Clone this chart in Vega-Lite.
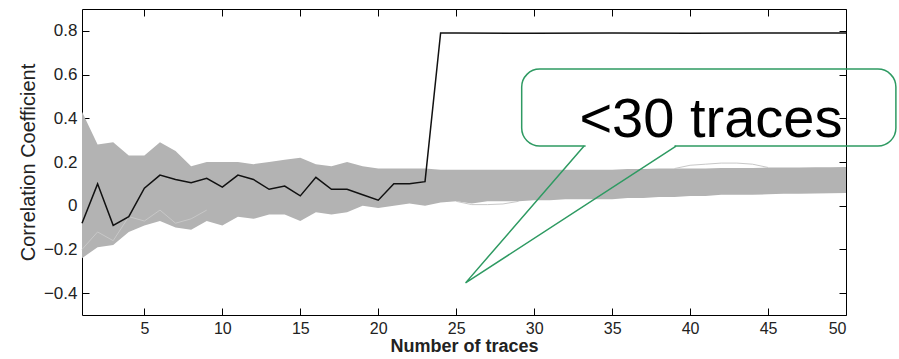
{
  "$schema": "https://vega.github.io/schema/vega-lite/v6.json",
  "width": 764,
  "height": 306,
  "autosize": {"type": "none"},
  "padding": {"left": 82, "top": 9, "right": 53, "bottom": 44},
  "background": "white",
  "config": {
    "view": {"stroke": "#000000", "strokeWidth": 1},
    "axis": {
      "grid": false,
      "domain": false,
      "tickColor": "#000000",
      "tickWidth": 1,
      "tickSize": 7,
      "labelFont": "Liberation Sans",
      "labelFontSize": 17,
      "labelColor": "#222222",
      "titleFont": "Liberation Sans",
      "titleColor": "#222222"
    }
  },
  "datasets": {
    "band": [
      {"n": 1, "lo": -0.24, "hi": 0.43},
      {"n": 2, "lo": -0.19, "hi": 0.28},
      {"n": 3, "lo": -0.18, "hi": 0.29},
      {"n": 4, "lo": -0.12, "hi": 0.23},
      {"n": 5, "lo": -0.09, "hi": 0.23},
      {"n": 6, "lo": -0.07, "hi": 0.29},
      {"n": 7, "lo": -0.10, "hi": 0.25},
      {"n": 8, "lo": -0.11, "hi": 0.18},
      {"n": 9, "lo": -0.07, "hi": 0.20},
      {"n": 10, "lo": -0.09, "hi": 0.20},
      {"n": 11, "lo": -0.05, "hi": 0.20},
      {"n": 12, "lo": -0.06, "hi": 0.19},
      {"n": 13, "lo": -0.04, "hi": 0.20},
      {"n": 14, "lo": -0.04, "hi": 0.21},
      {"n": 15, "lo": -0.07, "hi": 0.22},
      {"n": 16, "lo": -0.03, "hi": 0.19},
      {"n": 17, "lo": -0.04, "hi": 0.18},
      {"n": 18, "lo": -0.03, "hi": 0.20},
      {"n": 19, "lo": 0.00, "hi": 0.18},
      {"n": 20, "lo": -0.01, "hi": 0.17},
      {"n": 21, "lo": 0.00, "hi": 0.17},
      {"n": 22, "lo": 0.01, "hi": 0.17},
      {"n": 23, "lo": 0.00, "hi": 0.17},
      {"n": 24, "lo": 0.015, "hi": 0.165},
      {"n": 25, "lo": 0.02, "hi": 0.165},
      {"n": 26, "lo": 0.01, "hi": 0.165},
      {"n": 27, "lo": 0.02, "hi": 0.165},
      {"n": 28, "lo": 0.02, "hi": 0.165},
      {"n": 29, "lo": 0.02, "hi": 0.165},
      {"n": 30, "lo": 0.025, "hi": 0.165},
      {"n": 31, "lo": 0.025, "hi": 0.165},
      {"n": 32, "lo": 0.03, "hi": 0.165},
      {"n": 33, "lo": 0.03, "hi": 0.165},
      {"n": 34, "lo": 0.03, "hi": 0.165},
      {"n": 35, "lo": 0.03, "hi": 0.165},
      {"n": 36, "lo": 0.035, "hi": 0.168},
      {"n": 37, "lo": 0.035, "hi": 0.168},
      {"n": 38, "lo": 0.04, "hi": 0.17},
      {"n": 39, "lo": 0.04, "hi": 0.17},
      {"n": 40, "lo": 0.045, "hi": 0.17},
      {"n": 41, "lo": 0.045, "hi": 0.17},
      {"n": 42, "lo": 0.05, "hi": 0.172},
      {"n": 43, "lo": 0.05, "hi": 0.172},
      {"n": 44, "lo": 0.05, "hi": 0.172},
      {"n": 45, "lo": 0.052, "hi": 0.175},
      {"n": 46, "lo": 0.055, "hi": 0.175},
      {"n": 47, "lo": 0.055, "hi": 0.175},
      {"n": 48, "lo": 0.056, "hi": 0.176},
      {"n": 49, "lo": 0.057, "hi": 0.176},
      {"n": 50, "lo": 0.058, "hi": 0.177}
    ],
    "outliers": [
      {"trace": "a", "n": 25, "r": 0.02},
      {"trace": "a", "n": 26, "r": 0.005},
      {"trace": "a", "n": 27, "r": 0.005},
      {"trace": "a", "n": 28, "r": 0.008},
      {"trace": "a", "n": 29, "r": 0.02},
      {"trace": "b", "n": 39, "r": 0.17},
      {"trace": "b", "n": 40, "r": 0.185},
      {"trace": "b", "n": 41, "r": 0.19},
      {"trace": "b", "n": 42, "r": 0.195},
      {"trace": "b", "n": 43, "r": 0.195},
      {"trace": "b", "n": 44, "r": 0.19},
      {"trace": "b", "n": 45, "r": 0.175},
      {"trace": "c", "n": 1, "r": -0.2},
      {"trace": "c", "n": 2, "r": -0.12},
      {"trace": "c", "n": 3, "r": -0.16},
      {"trace": "c", "n": 4, "r": -0.05},
      {"trace": "c", "n": 5, "r": -0.07},
      {"trace": "c", "n": 6, "r": -0.02},
      {"trace": "c", "n": 7, "r": -0.08},
      {"trace": "c", "n": 8, "r": -0.06},
      {"trace": "c", "n": 9, "r": -0.02}
    ],
    "key": [
      {"n": 1, "r": -0.08},
      {"n": 2, "r": 0.10},
      {"n": 3, "r": -0.09},
      {"n": 4, "r": -0.05},
      {"n": 5, "r": 0.08},
      {"n": 6, "r": 0.14},
      {"n": 7, "r": 0.12},
      {"n": 8, "r": 0.105},
      {"n": 9, "r": 0.125},
      {"n": 10, "r": 0.085},
      {"n": 11, "r": 0.14},
      {"n": 12, "r": 0.12},
      {"n": 13, "r": 0.075},
      {"n": 14, "r": 0.09},
      {"n": 15, "r": 0.045},
      {"n": 16, "r": 0.13},
      {"n": 17, "r": 0.075},
      {"n": 18, "r": 0.075},
      {"n": 19, "r": 0.05},
      {"n": 20, "r": 0.025},
      {"n": 21, "r": 0.10},
      {"n": 22, "r": 0.10},
      {"n": 23, "r": 0.11},
      {"n": 24, "r": 0.79},
      {"n": 25, "r": 0.79},
      {"n": 30, "r": 0.789},
      {"n": 35, "r": 0.79},
      {"n": 40, "r": 0.789},
      {"n": 45, "r": 0.79},
      {"n": 50, "r": 0.79}
    ],
    "bubble": [{"x1": 29.2, "x2": 53.2, "y1": 0.625, "y2": 0.273}],
    "gap": [{"x1": 33.3, "x2": 39.0, "y": 0.273}],
    "tail": [
      {"o": 1, "n": 33.2, "r": 0.273},
      {"o": 2, "n": 25.6, "r": -0.353},
      {"o": 3, "n": 39.1, "r": 0.273}
    ],
    "label": [{"n": 32.9, "r": 0.314, "t": "<30 traces"}]
  },
  "layer": [
    {
      "data": {"name": "band"},
      "mark": {"type": "area", "color": "#b3b3b3", "opacity": 1},
      "encoding": {
        "x": {
          "field": "n", "type": "quantitative",
          "scale": {"domain": [1, 50], "nice": false, "zero": false},
          "axis": {
            "orient": "bottom",
            "offset": -7,
            "values": [5, 10, 15, 20, 25, 30, 35, 40, 45, 50],
            "labelPadding": 5,
            "labelFontSize": 16,
            "title": "Number of traces",
            "titleFontSize": 18,
            "titleFontWeight": "bold",
            "titlePadding": 1
          }
        },
        "y": {
          "field": "hi", "type": "quantitative",
          "scale": {"domain": [-0.5, 0.9], "nice": false, "zero": false},
          "axis": {
            "orient": "left",
            "offset": -7,
            "values": [-0.4, -0.2, 0, 0.2, 0.4, 0.6, 0.8],
            "format": "~g",
            "labelPadding": 5,
            "title": "Correlation Coefficient",
            "titleFontSize": 20,
            "titleFontWeight": "normal",
            "titlePadding": 5
          }
        },
        "y2": {"field": "lo"}
      }
    },
    {
      "data": {"name": "outliers"},
      "mark": {"type": "line", "color": "#c8c8c8", "strokeWidth": 1},
      "encoding": {
        "x": {"field": "n", "type": "quantitative", "axis": null},
        "y": {"field": "r", "type": "quantitative", "axis": null},
        "detail": {"field": "trace"}
      }
    },
    {
      "data": {"name": "key"},
      "mark": {"type": "line", "color": "#111111", "strokeWidth": 1.5},
      "encoding": {
        "x": {
          "field": "n", "type": "quantitative",
          "axis": {"orient": "top", "offset": -7, "values": [5, 10, 15, 20, 25, 30, 35, 40, 45, 50], "labels": false, "title": null}
        },
        "y": {
          "field": "r", "type": "quantitative",
          "axis": {"orient": "right", "offset": -7, "values": [-0.4, -0.2, 0, 0.2, 0.4, 0.6, 0.8], "labels": false, "title": null}
        }
      }
    },
    {
      "data": {"name": "bubble"},
      "mark": {"type": "rect", "fillOpacity": 0, "stroke": "#2e9a62", "strokeWidth": 1.5, "cornerRadius": 18},
      "encoding": {
        "x": {"field": "x1", "type": "quantitative", "axis": null},
        "x2": {"field": "x2"},
        "y": {"field": "y1", "type": "quantitative", "axis": null},
        "y2": {"field": "y2"}
      }
    },
    {
      "data": {"name": "gap"},
      "mark": {"type": "rule", "color": "white", "strokeWidth": 3},
      "encoding": {
        "x": {"field": "x1", "type": "quantitative", "axis": null},
        "x2": {"field": "x2"},
        "y": {"field": "y", "type": "quantitative", "axis": null}
      }
    },
    {
      "data": {"name": "tail"},
      "mark": {"type": "line", "color": "#2e9a62", "strokeWidth": 1.5},
      "encoding": {
        "x": {"field": "n", "type": "quantitative", "axis": null},
        "y": {"field": "r", "type": "quantitative", "axis": null},
        "order": {"field": "o"}
      }
    },
    {
      "data": {"name": "label"},
      "mark": {"type": "text", "font": "Liberation Sans", "fontSize": 56, "align": "left", "baseline": "alphabetic", "color": "#000000"},
      "encoding": {
        "x": {"field": "n", "type": "quantitative", "axis": null},
        "y": {"field": "r", "type": "quantitative", "axis": null},
        "text": {"field": "t"}
      }
    }
  ],
  "resolve": {"axis": {"x": "independent", "y": "independent"}}
}
